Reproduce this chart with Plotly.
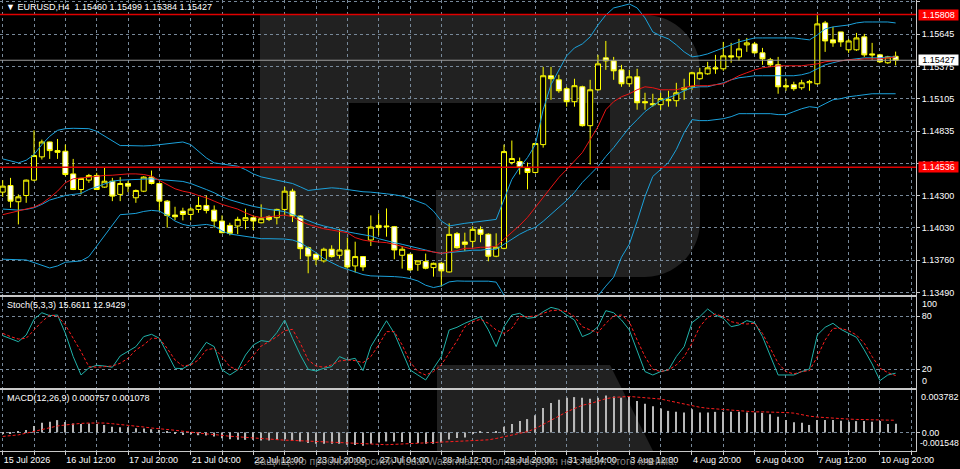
import plotly.graph_objects as go
from plotly.subplots import make_subplots

symbol = "EURUSD,H4"

# bottom axis labels, one every 8 bars starting at bar 0
x_labels = ["15 Jul 2026", "16 Jul 12:00", "17 Jul 20:00", "21 Jul 04:00", "22 Jul 12:00",
            "23 Jul 20:00", "27 Jul 04:00", "28 Jul 12:00", "29 Jul 20:00", "31 Jul 04:00",
            "3 Aug 12:00", "4 Aug 20:00", "6 Aug 04:00", "7 Aug 12:00", "10 Aug 20:00"]

opens = [1.14328, 1.14383, 1.14248, 1.14300, 1.14428, 1.14622, 1.14746, 1.14674, 1.14669, 1.14480,
         1.14350, 1.14428, 1.14467, 1.14370, 1.14419, 1.14309, 1.14400, 1.14281, 1.14336, 1.14453,
         1.14400, 1.14253, 1.14137, 1.14170, 1.14142, 1.14184, 1.14217, 1.14178, 1.14087, 1.14051,
         1.14046, 1.14093, 1.14115, 1.14073, 1.14123, 1.14115, 1.14184, 1.14336, 1.14129, 1.13865,
         1.13810, 1.13755, 1.13852, 1.13802, 1.13846, 1.13713, 1.13791, 1.13929, 1.14051, 1.14046,
         1.14040, 1.13802, 1.13810, 1.13727, 1.13749, 1.13699, 1.13735, 1.13663, 1.13982, 1.13913,
         1.13918, 1.14018, 1.13977, 1.13794, 1.13860, 1.14575, 1.14583, 1.14525, 1.14492, 1.14724,
         1.15298, 1.15264, 1.15190, 1.15082, 1.15206, 1.14882, 1.15181, 1.15447, 1.15422, 1.15347,
         1.15231, 1.15289, 1.15082, 1.15065, 1.15057, 1.15090, 1.15090, 1.15181, 1.15206, 1.15273,
         1.15314, 1.15364, 1.15356, 1.15464, 1.15455, 1.15555, 1.15563, 1.15489, 1.15431, 1.15389,
         1.15215, 1.15223, 1.15198, 1.15239, 1.15231, 1.15738, 1.15597, 1.15663, 1.15514, 1.15514,
         1.15622, 1.15480, 1.15472, 1.15406, 1.15460]
highs = [1.14428, 1.14447, 1.14309, 1.14433, 1.14843, 1.14766, 1.14749, 1.14771, 1.14724, 1.14605,
         1.14447, 1.14480, 1.14489, 1.14530, 1.14447, 1.14453, 1.14419, 1.14350, 1.14461, 1.14508,
         1.14406, 1.14262, 1.14206, 1.14198, 1.14203, 1.14289, 1.14300, 1.14217, 1.14134, 1.14073,
         1.14123, 1.14190, 1.14134, 1.14226, 1.14134, 1.14190, 1.14372, 1.14356, 1.14134, 1.13874,
         1.13818, 1.13865, 1.13885, 1.14023, 1.13949, 1.13915, 1.13796, 1.14134, 1.14151, 1.14192,
         1.14046, 1.13879, 1.13816, 1.13760, 1.13816, 1.13741, 1.13746, 1.14068, 1.13996, 1.13990,
         1.14043, 1.14043, 1.13985, 1.13985, 1.14724, 1.14758, 1.14616, 1.14575, 1.14741, 1.15372,
         1.15372, 1.15306, 1.15206, 1.15273, 1.15215, 1.15264, 1.15472, 1.15588, 1.15455, 1.15389,
         1.15347, 1.15356, 1.15156, 1.15148, 1.15156, 1.15173, 1.15239, 1.15273, 1.15331, 1.15364,
         1.15414, 1.15472, 1.15580, 1.15572, 1.15605, 1.15613, 1.15580, 1.15530, 1.15447, 1.15455,
         1.15273, 1.15248, 1.15264, 1.15264, 1.15804, 1.15755, 1.15705, 1.15663, 1.15605, 1.15655,
         1.15647, 1.15572, 1.15480, 1.15464, 1.15499]
lows = [1.14289, 1.14198, 1.14059, 1.14239, 1.14419, 1.14600, 1.14605, 1.14605, 1.14461, 1.14345,
        1.14309, 1.14406, 1.14345, 1.14364, 1.14253, 1.14253, 1.14328, 1.14239, 1.14328, 1.14392,
        1.14170, 1.14032, 1.14095, 1.14093, 1.14093, 1.14156, 1.14151, 1.14032, 1.13985, 1.13968,
        1.13979, 1.14018, 1.14012, 1.14068, 1.14087, 1.14059, 1.14134, 1.14079, 1.13769, 1.13652,
        1.13719, 1.13741, 1.13782, 1.13774, 1.13691, 1.13658, 1.13672, 1.13879, 1.13968, 1.13957,
        1.13769, 1.13691, 1.13672, 1.13672, 1.13685, 1.13624, 1.13541, 1.13658, 1.13857, 1.13838,
        1.13869, 1.13910, 1.13752, 1.13786, 1.13852, 1.14558, 1.14475, 1.14351, 1.14483, 1.14699,
        1.15098, 1.15156, 1.15040, 1.15040, 1.14874, 1.14558, 1.15173, 1.15347, 1.15264, 1.15206,
        1.15206, 1.15015, 1.15015, 1.15040, 1.15015, 1.15040, 1.15040, 1.15098, 1.15181, 1.15264,
        1.15306, 1.15314, 1.15339, 1.15406, 1.15422, 1.15497, 1.15480, 1.15389, 1.15372, 1.15148,
        1.15173, 1.15173, 1.15181, 1.15173, 1.15223, 1.15497, 1.15539, 1.15539, 1.15489, 1.15505,
        1.15455, 1.15431, 1.15406, 1.15397, 1.15384]
closes = [1.14378, 1.14253, 1.14289, 1.14428, 1.14633, 1.14746, 1.14674, 1.14660, 1.14475, 1.14350,
          1.14442, 1.14467, 1.14350, 1.14419, 1.14295, 1.14400, 1.14378, 1.14342, 1.14453, 1.14400,
          1.14253, 1.14134, 1.14123, 1.14142, 1.14187, 1.14217, 1.14176, 1.14087, 1.13990, 1.13985,
          1.14101, 1.14115, 1.14087, 1.14106, 1.14101, 1.14184, 1.14336, 1.14129, 1.13857, 1.13796,
          1.13769, 1.13852, 1.13791, 1.13846, 1.13705, 1.13791, 1.13705, 1.14037, 1.14032, 1.14040,
          1.13846, 1.13852, 1.13680, 1.13755, 1.13694, 1.13735, 1.13672, 1.13976, 1.13865, 1.13893,
          1.14018, 1.13977, 1.13794, 1.13869, 1.14666, 1.14608, 1.14533, 1.14492, 1.14733, 1.15298,
          1.15273, 1.15173, 1.15082, 1.15215, 1.14882, 1.15181, 1.15397, 1.15422, 1.15339, 1.15231,
          1.15289, 1.15073, 1.15073, 1.15057, 1.15107, 1.15098, 1.15156, 1.15198, 1.15323, 1.15323,
          1.15364, 1.15356, 1.15464, 1.15455, 1.15522, 1.15572, 1.15489, 1.15439, 1.15389, 1.15206,
          1.15206, 1.15190, 1.15239, 1.15248, 1.15730, 1.15588, 1.15572, 1.15580, 1.15588, 1.15613,
          1.15472, 1.15472, 1.15414, 1.15455, 1.15427]

bb_upper = [1.14605, 1.14591, 1.14572, 1.14594, 1.14641, 1.14724, 1.14793, 1.14843, 1.14857, 1.14860,
            1.14860, 1.14857, 1.14835, 1.14793, 1.14752, 1.14716, 1.14716, 1.14713, 1.14713, 1.14716,
            1.14724, 1.14732, 1.14738, 1.14746, 1.14724, 1.14669, 1.14613, 1.14572, 1.14563, 1.14555,
            1.14544, 1.14516, 1.14480, 1.14455, 1.14442, 1.14428, 1.14414, 1.14400, 1.14372, 1.14342,
            1.14350, 1.14359, 1.14364, 1.14359, 1.14350, 1.14336, 1.14331, 1.14328, 1.14323, 1.14314,
            1.14306, 1.14295, 1.14275, 1.14253, 1.14226, 1.14170, 1.14087, 1.14046, 1.14059, 1.14068,
            1.14076, 1.14085, 1.14093, 1.14101, 1.14267, 1.14434, 1.14533, 1.14616, 1.14724, 1.15015,
            1.15223, 1.15347, 1.15464, 1.15530, 1.15563, 1.15622, 1.15721, 1.15804, 1.15863, 1.15879,
            1.15896, 1.15863, 1.15780, 1.15663, 1.15630, 1.15605, 1.15555, 1.15497, 1.15455, 1.15464,
            1.15480, 1.15505, 1.15530, 1.15555, 1.15580, 1.15597, 1.15613, 1.15613, 1.15613, 1.15613,
            1.15613, 1.15613, 1.15605, 1.15597, 1.15638, 1.15688, 1.15705, 1.15713, 1.15721, 1.15738,
            1.15746, 1.15746, 1.15746, 1.15746, 1.15738]
bb_mid = [1.14187, 1.14184, 1.14178, 1.14184, 1.14198, 1.14226, 1.14262, 1.14281, 1.14300, 1.14309,
          1.14317, 1.14350, 1.14372, 1.14400, 1.14419, 1.14428, 1.14431, 1.14433, 1.14436, 1.14439,
          1.14433, 1.14428, 1.14422, 1.14417, 1.14400, 1.14372, 1.14350, 1.14323, 1.14289, 1.14264,
          1.14248, 1.14226, 1.14209, 1.14195, 1.14184, 1.14176, 1.14165, 1.14142, 1.14115, 1.14087,
          1.14065, 1.14046, 1.14029, 1.14012, 1.13998, 1.13985, 1.13971, 1.13962, 1.13940, 1.13921,
          1.13907, 1.13893, 1.13879, 1.13865, 1.13846, 1.13829, 1.13818, 1.13824, 1.13832, 1.13835,
          1.13844, 1.13844, 1.13852, 1.13852, 1.13894, 1.13935, 1.13977, 1.14010, 1.14035, 1.14085,
          1.14143, 1.14201, 1.14259, 1.14326, 1.14409, 1.14475, 1.14542, 1.14625, 1.14699, 1.14783,
          1.14866, 1.14932, 1.14999, 1.15048, 1.15090, 1.15115, 1.15140, 1.15173, 1.15198, 1.15206,
          1.15206, 1.15223, 1.15239, 1.15264, 1.15281, 1.15289, 1.15298, 1.15298, 1.15298, 1.15298,
          1.15298, 1.15298, 1.15306, 1.15323, 1.15356, 1.15389, 1.15406, 1.15422, 1.15431, 1.15439,
          1.15447, 1.15447, 1.15447, 1.15455, 1.15455]
bb_lower = [1.13769, 1.13769, 1.13769, 1.13763, 1.13741, 1.13719, 1.13696, 1.13713, 1.13744, 1.13749,
            1.13755, 1.13791, 1.13879, 1.13962, 1.14059, 1.14140, 1.14145, 1.14151, 1.14167, 1.14176,
            1.14170, 1.14134, 1.14087, 1.14059, 1.14046, 1.14051, 1.14059, 1.14046, 1.14004, 1.13979,
            1.13968, 1.13962, 1.13949, 1.13940, 1.13940, 1.13940, 1.13937, 1.13929, 1.13907, 1.13865,
            1.13824, 1.13774, 1.13741, 1.13708, 1.13685, 1.13663, 1.13641, 1.13630, 1.13630, 1.13624,
            1.13624, 1.13619, 1.13608, 1.13588, 1.13552, 1.13533, 1.13547, 1.13580, 1.13588, 1.13586,
            1.13586, 1.13586, 1.13586, 1.13578, 1.13470, 1.13420, 1.13395, 1.13370, 1.13337, 1.13187,
            1.13104, 1.13063, 1.13063, 1.13104, 1.13229, 1.13312, 1.13465, 1.13545, 1.13619, 1.13786,
            1.13894, 1.14085, 1.14292, 1.14459, 1.14517, 1.14575, 1.14683, 1.14824, 1.14932, 1.14924,
            1.14924, 1.14932, 1.14940, 1.14957, 1.14982, 1.14982, 1.14982, 1.14982, 1.14982, 1.14974,
            1.14974, 1.14999, 1.15023, 1.15040, 1.15032, 1.15065, 1.15098, 1.15107, 1.15123, 1.15131,
            1.15140, 1.15148, 1.15148, 1.15148, 1.15148]
ma_red = [1.14140, 1.14156, 1.14170, 1.14184, 1.14203, 1.14234, 1.14281, 1.14336, 1.14406, 1.14439,
          1.14447, 1.14453, 1.14461, 1.14467, 1.14469, 1.14475, 1.14480, 1.14480, 1.14475, 1.14461,
          1.14428, 1.14392, 1.14356, 1.14336, 1.14323, 1.14300, 1.14281, 1.14253, 1.14226, 1.14206,
          1.14187, 1.14156, 1.14129, 1.14115, 1.14123, 1.14134, 1.14137, 1.14123, 1.14087, 1.14059,
          1.14040, 1.14023, 1.14012, 1.14001, 1.13990, 1.13949, 1.13929, 1.13918, 1.13913, 1.13907,
          1.13893, 1.13874, 1.13857, 1.13846, 1.13841, 1.13829, 1.13818, 1.13829, 1.13841, 1.13860,
          1.13860, 1.13869, 1.13869, 1.13877, 1.13935, 1.13993, 1.14051, 1.14118, 1.14201, 1.14292,
          1.14375, 1.14450, 1.14517, 1.14591, 1.14658, 1.14766, 1.14874, 1.15015, 1.15082, 1.15123,
          1.15148, 1.15181, 1.15206, 1.15198, 1.15181, 1.15181, 1.15181, 1.15198, 1.15215, 1.15215,
          1.15215, 1.15223, 1.15231, 1.15264, 1.15298, 1.15323, 1.15347, 1.15364, 1.15372, 1.15381,
          1.15381, 1.15381, 1.15381, 1.15389, 1.15397, 1.15414, 1.15422, 1.15422, 1.15431, 1.15431,
          1.15439, 1.15439, 1.15439, 1.15447, 1.15455]

stoch_main = [57.9, 54.9, 51.1, 58.6, 76.3, 83.7, 80.4, 81.1, 60.5, 34.3,
              13.6, 21.5, 24.5, 23.7, 22.3, 35.0, 40.0, 45.5, 56.8, 59.4,
              54.9, 38.0, 21.1, 20.8, 26.0, 38.0, 50.4, 45.5, 19.3, 13.6,
              19.3, 36.1, 47.4, 52.3, 51.1, 61.3, 75.5, 54.9, 36.1, 20.0,
              18.1, 21.1, 23.0, 34.3, 30.5, 32.4, 18.5, 45.5, 60.5, 74.7,
              60.5, 39.9, 19.3, 13.6, 8.0, 21.1, 34.3, 64.2, 67.3, 71.8,
              75.5, 79.3, 64.3, 45.5, 68.0, 81.1, 83.0, 77.4, 78.5, 84.9,
              89.7, 87.5, 81.1, 75.5, 56.8, 60.5, 68.0, 86.0, 83.7, 75.5,
              64.3, 41.8, 17.4, 13.6, 17.4, 19.3, 34.3, 45.5, 72.5, 79.3,
              87.9, 81.1, 77.4, 68.0, 69.9, 74.8, 72.5, 56.8, 34.3, 13.6,
              13.6, 13.6, 17.4, 20.4, 58.6, 67.3, 71.8, 65.0, 60.5, 56.0,
              41.8, 26.0, 7.3, 13.6, 15.6611]
stoch_signal = [60.5, 56.8, 54.1, 54.9, 64.2, 73.6, 81.1, 80.0, 69.9, 54.9,
                39.9, 23.0, 22.3, 23.0, 23.7, 26.8, 32.4, 41.8, 47.4, 54.9,
                54.9, 43.6, 30.5, 23.7, 25.0, 30.5, 41.8, 43.6, 34.3, 23.0,
                19.3, 25.0, 36.1, 46.2, 51.1, 56.8, 63.5, 65.0, 49.3, 30.5,
                23.7, 22.3, 25.0, 29.4, 30.5, 29.8, 27.5, 34.3, 47.4, 62.4,
                62.4, 47.4, 28.6, 17.4, 13.6, 17.4, 25.0, 38.0, 52.0, 68.0,
                73.6, 76.3, 71.8, 64.3, 60.5, 66.1, 79.3, 79.3, 80.0, 83.0,
                86.0, 86.7, 84.9, 79.3, 68.0, 64.3, 61.3, 71.8, 80.0, 81.1,
                73.6, 53.0, 34.3, 20.0, 17.4, 19.3, 24.9, 34.3, 49.3, 68.0,
                78.5, 82.2, 79.3, 73.6, 71.8, 71.0, 71.8, 60.5, 43.6, 26.8,
                17.4, 14.8, 17.4, 18.5, 34.3, 53.0, 66.1, 66.1, 63.5, 58.6,
                49.3, 34.3, 21.1, 16.3, 12.9429]

macd_main = [-0.00013, -0.00007, 0.00007, 0.00022, 0.00057, 0.00086, 0.00095, 0.00109, 0.00092, 0.00080,
             0.00074, 0.00080, 0.00074, 0.00066, 0.00051, 0.00045, 0.00045, 0.00036, 0.00034, 0.00028,
             0.00022, 0.00007, -0.00007, -0.00022, -0.00016, -0.00025, -0.00028, -0.00036, -0.00051, -0.00060,
             -0.00066, -0.00066, -0.00066, -0.00071, -0.00071, -0.00066, -0.00060, -0.00071, -0.00080, -0.00095,
             -0.00101, -0.00101, -0.00101, -0.00101, -0.00109, -0.00112, -0.00118, -0.00101, -0.00089, -0.00080,
             -0.00080, -0.00086, -0.00095, -0.00095, -0.00101, -0.00101, -0.00089, -0.00062, -0.00050, -0.00045,
             -0.00010, 0.00005, 0.00003, 0.00008, 0.00051, 0.00074, 0.00100, 0.00118, 0.00153, 0.00217,
             0.00261, 0.00290, 0.00308, 0.00313, 0.00308, 0.00299, 0.00308, 0.00328, 0.00319, 0.00308,
             0.00313, 0.00278, 0.00255, 0.00232, 0.00211, 0.00191, 0.00182, 0.00176, 0.00206, 0.00176,
             0.00176, 0.00182, 0.00182, 0.00182, 0.00182, 0.00176, 0.00176, 0.00173, 0.00162, 0.00138,
             0.00109, 0.00089, 0.00086, 0.00066, 0.00109, 0.00109, 0.00109, 0.00103, 0.00095, 0.00100,
             0.00100, 0.00095, 0.00100, 0.00074, 0.000757]
macd_signal = [-0.00036, -0.00031, -0.00022, -0.00007, 0.00010, 0.00028, 0.00045, 0.00057, 0.00066, 0.00074,
               0.00080, 0.00083, 0.00086, 0.00083, 0.00077, 0.00071, 0.00063, 0.00057, 0.00048, 0.00039,
               0.00034, 0.00025, 0.00019, 0.00010, 0.00001, -0.00004, -0.00013, -0.00019, -0.00028, -0.00034,
               -0.00039, -0.00045, -0.00051, -0.00057, -0.00060, -0.00063, -0.00069, -0.00071, -0.00074, -0.00077,
               -0.00080, -0.00083, -0.00086, -0.00089, -0.00095, -0.00098, -0.00103, -0.00106, -0.00109, -0.00109,
               -0.00106, -0.00103, -0.00101, -0.00098, -0.00095, -0.00092, -0.00089, -0.00083, -0.00080, -0.00077,
               -0.00071, -0.00069, -0.00066, -0.00054, -0.00039, -0.00025, -0.00010, 0.00007, 0.00034, 0.00069,
               0.00109, 0.00144, 0.00182, 0.00211, 0.00241, 0.00255, 0.00278, 0.00299, 0.00310, 0.00316,
               0.00319, 0.00313, 0.00308, 0.00302, 0.00296, 0.00281, 0.00267, 0.00249, 0.00235, 0.00223,
               0.00214, 0.00208, 0.00203, 0.00197, 0.00191, 0.00188, 0.00182, 0.00182, 0.00182, 0.00179,
               0.00176, 0.00171, 0.00156, 0.00144, 0.00136, 0.00130, 0.00127, 0.00121, 0.00118, 0.00115,
               0.00112, 0.00109, 0.00109, 0.00109, 0.001078]

levels = [1.15808, 1.14536]
price_ticks = [1.15915, 1.15645, 1.15375, 1.15105, 1.14835, 1.14565, 1.14300, 1.14030, 1.13760, 1.13490]
stoch_levels = [80, 20]
macd_max_label = 0.003782
macd_min_label = -0.001548

for arr in (highs, lows, closes, bb_upper, bb_mid, bb_lower, ma_red,
            stoch_main, stoch_signal, macd_main, macd_signal):
    assert len(arr) == len(opens)

bars = list(range(len(opens)))

W, H = 960, 469
ML, MR, MT, MB = 0, 44, 0, 18
PW, PH = W - ML - MR, H - MT - MB


def ppx(x):
    return x / PW


def ppy(y):
    return 1 - y / PH


def pt(x, y):
    return f"{ppx(x):.5f},{ppy(y):.5f}"


FG = "#C8C8C8"
GRID = "#778899"
BAND = "#1BA1DB"
RED = "#E81414"
FONT = "Liberation Sans, Arial, sans-serif"

fig = make_subplots(rows=3, cols=1, shared_xaxes=True)

fig.add_trace(go.Candlestick(
    x=bars, open=opens, high=highs, low=lows, close=closes,
    increasing=dict(line=dict(color="#FFFF00", width=1), fillcolor="#000000"),
    decreasing=dict(line=dict(color="#FFFF00", width=1), fillcolor="#FFFFFF"),
    whiskerwidth=0, hoverinfo="skip"), row=1, col=1)
for band in (bb_upper, bb_mid, bb_lower):
    fig.add_trace(go.Scatter(x=bars, y=band, mode="lines",
                             line=dict(color=BAND, width=1)), row=1, col=1)
fig.add_trace(go.Scatter(x=bars, y=ma_red, mode="lines",
                         line=dict(color=RED, width=1)), row=1, col=1)

fig.add_trace(go.Scatter(x=bars, y=stoch_main, mode="lines",
                         line=dict(color="#20B2AA", width=1)), row=2, col=1)
fig.add_trace(go.Scatter(x=bars, y=stoch_signal, mode="lines",
                         line=dict(color="#FF1E1E", width=1, dash="3px,2px")), row=2, col=1)

fig.add_trace(go.Bar(x=bars, y=macd_main, width=0.16,
                     marker=dict(color="#B8B8B8", line=dict(width=0))), row=3, col=1)
fig.add_trace(go.Scatter(x=bars, y=macd_signal, mode="lines",
                         line=dict(color="#FF1E1E", width=1, dash="3px,2px")), row=3, col=1)

# horizontal levels and last price line
for lv in levels:
    fig.add_hline(y=lv, line=dict(color="#E00000", width=1.6), row=1, col=1)
fig.add_hline(y=closes[-1], line=dict(color="#9A9A9A", width=1), row=1, col=1)

# grid every 4 bars, labels every 8
grid_bars = list(range(0, len(opens) + 2, 4))
grid_text = [x_labels[b // 8] if b % 8 == 0 and b // 8 < len(x_labels) else "" for b in grid_bars]

ax = dict(showline=True, linecolor=FG, linewidth=1, mirror=True, zeroline=False,
          showgrid=True, gridcolor=GRID, gridwidth=1, griddash="3px,3px", fixedrange=True)
xr = [-0.345, 116.6]
for name in ("xaxis", "xaxis2", "xaxis3"):
    fig.layout[name].update(ax, range=xr, tickvals=grid_bars, ticktext=grid_text,
                            rangeslider=dict(visible=False))
fig.layout.xaxis.update(showticklabels=False, ticks="")
fig.layout.xaxis2.update(showticklabels=False, ticks="")
fig.layout.xaxis3.update(showticklabels=True, ticks="outside", ticklen=3, tickcolor=FG,
                         ticklabelposition="outside right",
                         tickfont=dict(family=FONT, size=9, color="white"))

yax = dict(ax, side="right", ticks="outside", ticklen=3, tickcolor=FG,
           tickfont=dict(family=FONT, size=9, color="white"))
fig.layout.yaxis.update(yax, domain=[ppy(295), 1], range=[1.134708, 1.159292],
                        tickvals=price_ticks, ticktext=[f"{v:.5f}" for v in price_ticks])
fig.layout.yaxis2.update(yax, domain=[ppy(388), ppy(297)], range=[-1.05, 101.4],
                         tickvals=stoch_levels, ticktext=[str(v) for v in stoch_levels])
fig.layout.yaxis3.update(yax, domain=[0, ppy(390)], range=[-0.00165, 0.00376],
                         tickvals=[0], ticktext=["0.00"])

# watermark logo shapes (decoration)
wm = "#212121"
shapes = [
    dict(type="rect", xref="paper", yref="paper", x0=ppx(260), x1=ppx(349),
         y0=0, y1=ppy(15), fillcolor=wm, line=dict(width=0), layer="below"),
    dict(type="path", xref="paper", yref="paper", fillcolor=wm, line=dict(width=0), layer="below",
         path="M " + pt(349, 15) + " L " + pt(645, 15) + " C " + pt(675, 15) + " " + pt(700, 40)
         + " " + pt(700, 70) + " L " + pt(700, 222) + " C " + pt(700, 252) + " " + pt(675, 277)
         + " " + pt(645, 277) + " L " + pt(436, 277) + " L " + pt(436, 190) + " L " + pt(610, 190)
         + " L " + pt(610, 103) + " L " + pt(349, 103) + " Z"),
    dict(type="path", xref="paper", yref="paper", fillcolor=wm, line=dict(width=0), layer="below",
         path="M " + pt(437, 365) + " L " + pt(610, 365) + " L " + pt(653, 451)
         + " L " + pt(437, 451) + " Z"),
]
for s in shapes:
    fig.add_shape(**s)

txt = dict(family=FONT, size=9, color="white")
ann = []
ann.append(dict(xref="paper", yref="paper", x=ppx(4), y=ppy(7), xanchor="left", yanchor="middle",
                text=f"\u25bc {symbol}\u00a0\u00a0{opens[-1]:.5f} {highs[-1]:.5f} "
                     f"{lows[-1]:.5f} {closes[-1]:.5f}", font=txt, showarrow=False))
ann.append(dict(xref="paper", yref="paper", x=ppx(5), y=ppy(305), xanchor="left", yanchor="middle",
                text=f"Stoch(5,3,3) {stoch_main[-1]:.4f} {stoch_signal[-1]:.4f}",
                font=txt, showarrow=False))
ann.append(dict(xref="paper", yref="paper", x=ppx(5), y=ppy(398), xanchor="left", yanchor="middle",
                text=f"MACD(12,26,9) {macd_main[-1]:.6f} {macd_signal[-1]:.6f}",
                font=txt, showarrow=False))
# stochastic outer labels and macd range labels
ann.append(dict(xref="paper", yref="y2", x=1, y=100, xanchor="left", yanchor="middle",
                xshift=4, yshift=-6, text="100", font=txt, showarrow=False))
ann.append(dict(xref="paper", yref="y2", x=1, y=0, xanchor="left", yanchor="middle",
                xshift=4, yshift=6, text="0", font=txt, showarrow=False))
ann.append(dict(xref="paper", yref="y3 domain", x=1, y=1, xanchor="left", yanchor="middle",
                xshift=3, yshift=-7, text=f"{macd_max_label:.6f}", font=txt, showarrow=False))
ann.append(dict(xref="paper", yref="y3 domain", x=1, y=0, xanchor="left", yanchor="middle",
                xshift=2, yshift=8, text=f"{macd_min_label:.6f}",
                font=dict(family=FONT, size=8.6, color="white"), showarrow=False))
# price boxes on the right axis
for lv in levels:
    ann.append(dict(xref="paper", yref="y", x=1, y=lv, xanchor="left", yanchor="middle",
                    xshift=2, text=f"{lv:.5f}", bgcolor="#FF0000", width=39, height=10,
                    borderpad=0, font=txt, showarrow=False))
ann.append(dict(xref="paper", yref="y", x=1, y=closes[-1], xanchor="left", yanchor="middle",
                xshift=2, text=f"{closes[-1]:.5f}", bgcolor="#FFFFFF", width=39, height=10,
                borderpad=0, font=dict(family=FONT, size=9, color="black"), showarrow=False))
# watermark caption
ann.append(dict(xref="paper", yref="paper", x=ppx(465), y=ppy(461), xanchor="center", yanchor="middle",
                text="Защищено пробной версией Visual Watermark. Полная версия не ставит этого клейма.",
                font=dict(family=FONT, size=10.5, color="rgba(150,150,150,0.9)"), showarrow=False))

fig.update_layout(
    width=W, height=H, margin=dict(l=ML, r=MR, t=MT, b=MB),
    paper_bgcolor="black", plot_bgcolor="black",
    showlegend=False, hovermode=False,
    boxgap=0.2, boxgroupgap=0.2,
    font=dict(family=FONT, size=9, color="white"),
    annotations=ann,
)

# the page body has a default 8px margin; drop it so the figure sits at the window origin
fig.write_html("out.html", config={"displayModeBar": False},
               post_script="document.body.style.margin='0px';")
